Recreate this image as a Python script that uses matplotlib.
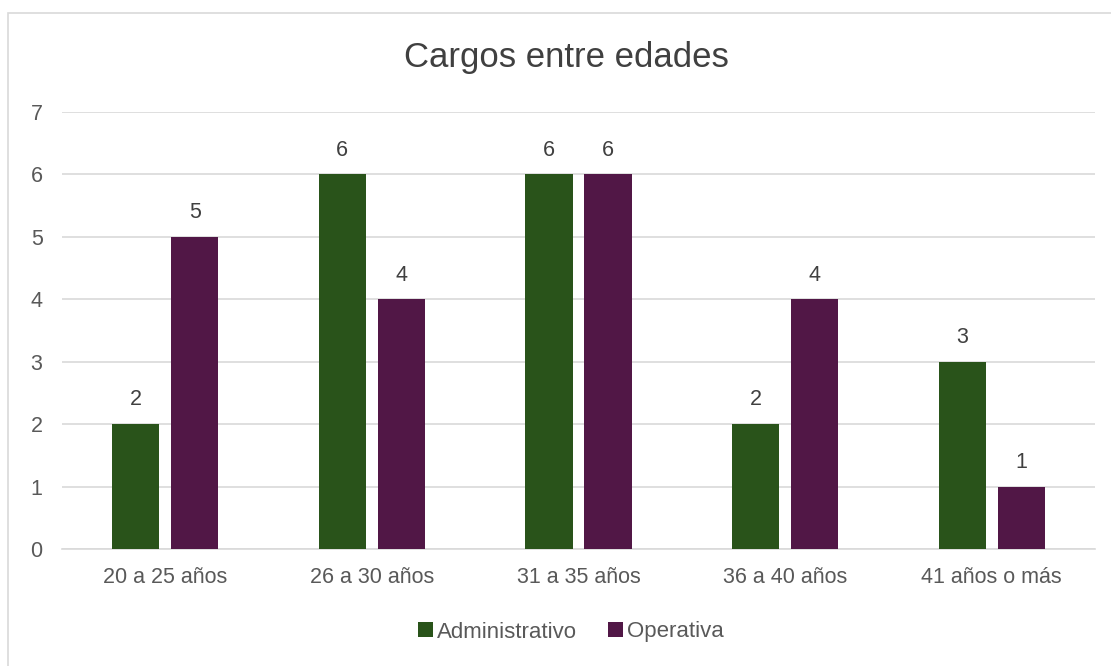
import matplotlib
matplotlib.use("Agg")
import matplotlib.pyplot as plt
from matplotlib.patches import Rectangle
import numpy as np

categories = ["20 a 25 años", "26 a 30 años", "31 a 35 años", "36 a 40 años", "41 años o más"]
administrativo = [2, 6, 6, 2, 3]
operativa = [5, 4, 6, 4, 1]
yticks = [0, 1, 2, 3, 4, 5, 6, 7]

green = "#29531A"
purple = "#511746"
plt.rcParams['font.family'] = ['Liberation Sans', 'DejaVu Sans']

fig = plt.figure(figsize=(11.11, 6.66), dpi=100)
ax = fig.add_axes([62/1111, 1-549/666, (1095-62)/1111, (549-112)/666])

# figure border
fig.patches.append(Rectangle((8/1111, -0.01), 1.1, 1-13/666+0.01, transform=fig.transFigure,
                             fill=False, edgecolor="#d9d9d9", linewidth=1.2, clip_on=False))

x = np.arange(len(categories))
w = 0.228
off = 0.143
b1 = ax.bar(x - off, administrativo, w, color=green, label="Administrativo", zorder=3)
b2 = ax.bar(x + off, operativa, w, color=purple, label="Operativa", zorder=3)

for bars, vals in ((b1, administrativo), (b2, operativa)):
    for r, v in zip(bars, vals):
        ax.text(r.get_x() + r.get_width()/2, v + 0.22, str(v), ha="center", va="bottom",
                fontsize=15.5, color="#404040")

ax.set_xlim(-0.5, 4.5)
ax.set_ylim(0, 7)
ax.set_yticks(yticks)
ax.set_xticks(x)
ax.set_xticklabels(categories)
ax.yaxis.grid(True, color="#d9d9d9", linewidth=1.2, zorder=0)
ax.set_axisbelow(True)
for s in ["top", "right", "left"]:
    ax.spines[s].set_visible(False)
ax.spines["bottom"].set_color("#d9d9d9")
ax.spines["bottom"].set_linewidth(1.2)
ax.tick_params(axis="both", length=0, labelsize=15.5, labelcolor="#595959")
ax.tick_params(axis="y", pad=14)
ax.tick_params(axis="x", pad=13)

fig.text(566/1111, 1-58/666, "Cargos entre edades", ha="center", va="center", fontsize=25, color="#404040")

leg = fig.legend(handles=[b1, b2], loc="center", bbox_to_anchor=(571/1111, 1-632/666), ncol=2,
                 frameon=False, fontsize=16, handlelength=0.65, handleheight=0.65, handletextpad=0.2,
                 columnspacing=1.4, labelcolor="#595959")

fig.savefig("out.png", dpi=100)
